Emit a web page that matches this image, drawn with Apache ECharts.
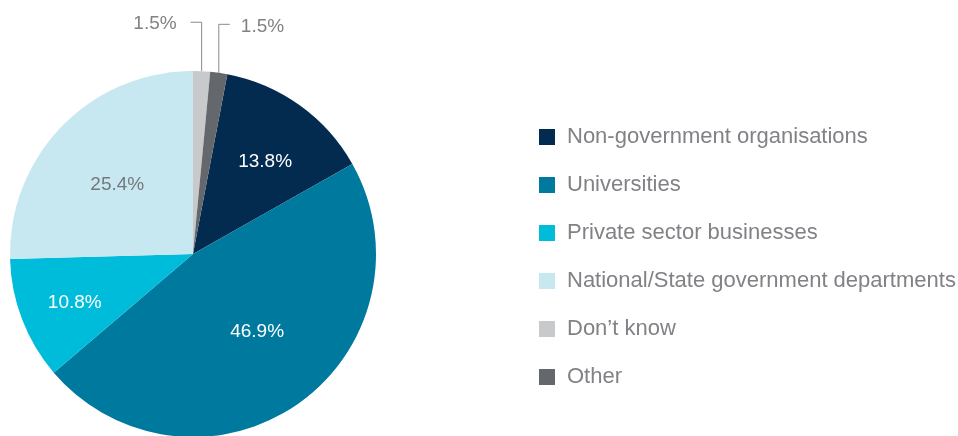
<!DOCTYPE html>
<html><head><meta charset="utf-8">
<script src="https://cdn.jsdelivr.net/npm/echarts@6/dist/echarts.min.js"></script>
<style>html,body{margin:0;padding:0;background:#fff}#c{width:958px;height:436px}</style>
</head><body><div id="c"></div>
<script>
const categories = ['Non-government organisations','Universities','Private sector businesses','National/State government departments',"Don\u2019t know",'Other'];
const values = [13.8, 46.9, 10.8, 25.4, 1.5, 1.5];
const colors = ['#022b4f','#00799f','#00bcdb','#c7e8f1','#c8c9cb','#64676c'];
const labelColors = ['#ffffff','#ffffff','#ffffff','#76787b','#808285','#808285'];
const labelOffsets = [[17,-15],[10,0],[-30,15],[-8,-3],[0,0],[0,0]];
const total = values.reduce((a,b)=>a+b,0);
const tailSum = values[4] + values[5];
const startAngle = 90 - tailSum / total * 360;

const data = categories.map((name, i) => {
  const small = i >= 4;
  return {
    name, value: values[i],
    itemStyle: { color: colors[i] },
    label: small ? {
      position: 'outside', color: labelColors[i], fontSize: 19
    } : {
      position: 'inside', color: labelColors[i], fontSize: 19, offset: labelOffsets[i]
    },
    labelLine: { show: small, length: 49, length2: 11, lineStyle: { color: '#8a8b8e', width: 1 } }
  };
});

const chart = echarts.init(document.getElementById('c'), null, { renderer: 'canvas' });
chart.setOption({
  animation: false,
  textStyle: { fontFamily: 'Liberation Sans, Arial, sans-serif' },
  legend: {
    orient: 'vertical', left: 539, top: 126, padding: 0,
    itemWidth: 16, itemHeight: 16, itemGap: 26,
    icon: 'rect',
    textStyle: { fontSize: 22, color: '#808285', padding: [0,0,0,7], fontFamily: 'Liberation Sans, Arial, sans-serif' },
    data: categories
  },
  series: [{
    type: 'pie',
    center: [193, 254],
    radius: [0, 183],
    startAngle: startAngle,
    clockwise: true,
    avoidLabelOverlap: false,
    label: {
      show: true,
      formatter: p => p.value.toFixed(1) + '%',
      fontFamily: 'Liberation Sans, Arial, sans-serif'
    },
    labelLayout: function (params) {
      const i = params.dataIndex;
      if (i < 4) return {};
      const pts = params.labelLinePoints;
      if (!pts) return {};
      pts[1][0] = pts[0][0];
      const dir = i === 4 ? -1 : 1;
      pts[2][0] = pts[1][0] + dir * 11;
      pts[2][1] = pts[1][1];
      return {
        labelLinePoints: pts,
        x: pts[2][0] + dir * (i === 4 ? 14 : 11),
        y: pts[2][1] + 2,
        align: i === 4 ? 'right' : 'left',
        verticalAlign: 'middle'
      };
    },
    data: data
  }]
});
</script></body></html>
